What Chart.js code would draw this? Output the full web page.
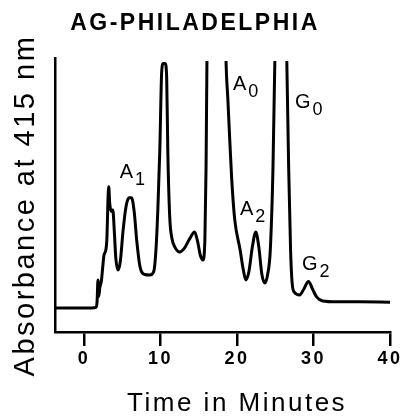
<!DOCTYPE html>
<html>
<head>
<meta charset="utf-8">
<script src="https://cdn.jsdelivr.net/npm/chart.js@4"></script>
<style>
  html, body { margin: 0; padding: 0; background: #fff; }
  canvas { display: block; }
</style>
</head>
<body>
<canvas id="myChart" width="405" height="418"></canvas>
<script>
    // retention time (minutes) and detector trace (relative absorbance, 0-100 = axis height)
    var times = [-3.8, 0, 1.0, 1.55, 1.7, 1.82, 1.92, 2.05, 2.28, 2.45, 2.6, 2.85, 3.0, 3.12, 3.23, 3.35,
        3.49, 3.62, 3.76, 3.95, 4.15, 4.45, 4.75, 5.1, 5.5, 5.9, 6.2, 6.55, 6.9, 7.3, 7.9, 8.6, 9.1, 9.4,
        9.65, 9.9, 10.15, 10.35, 10.6, 10.8, 10.95, 11.2, 11.5, 11.87, 12.5, 13.1, 13.8, 14.45, 14.85, 15.2,
        15.55, 15.8, 15.95, 16.1, 16.4, 18.1, 18.4, 18.55, 18.8, 19.0, 19.3, 19.7, 20.4, 20.8, 21.15, 21.55,
        22.0, 22.45, 22.85, 23.25, 23.65, 24.0, 24.35, 24.7, 24.95, 25.2, 26.2, 26.5, 26.75, 27.0, 27.2,
        27.5, 28.2, 28.7, 29.35, 29.9, 30.4, 31.2, 33, 36, 40];
    var absorbance = [8.8, 8.8, 8.8, 9.0, 11, 19, 13, 16, 19, 24, 28, 30, 35, 48, 53, 47,
        44.5, 44, 44.5, 37, 27, 22.6, 26, 37, 46, 49, 49, 44, 33, 24, 21, 20.8, 22, 30,
        45, 66, 95, 98, 98, 93, 66, 42, 34, 31, 29.2, 30.5, 34, 36.5, 33, 28,
        26.3, 34, 60, 110, 160, 160, 125, 100, 85, 73, 56, 41, 30, 23, 19, 22,
        31, 36.5, 31, 21, 17.9, 21, 30, 60, 100, 160, 160, 100, 60, 30, 18,
        14.5, 13.5, 15.5, 18.4, 15.5, 12.8, 11.3, 11.0, 11.0, 10.9];

    var timeTicks = [0, 10, 20, 30, 40];

    // peak names: letter, subscript, and where the label sits (minutes, absorbance)
    var peakNames = ['A', 'A', 'A', 'G', 'G'];
    var peakSubs = ['1', '0', '2', '0', '2'];
    var peakLabelTimes = [4.67, 19.46, 20.38, 27.57, 28.5];
    var peakLabelLevels = [56.2, 88.3, 42.7, 81.8, 22.6];

    var FONT = '"Liberation Sans", Arial, Helvetica, sans-serif';
    Chart.defaults.font.family = FONT;
    Chart.defaults.color = '#000';

    var spacing = {
        id: 'spacing',
        beforeDraw: function (chart) {
            chart.ctx.letterSpacing = '2.5px';
        }
    };

    var peakLabels = {
        id: 'peakLabels',
        afterDatasetsDraw: function (chart) {
            var ctx = chart.ctx;
            var x = chart.scales.x, y = chart.scales.y;
            ctx.save();
            ctx.fillStyle = '#000';
            ctx.textAlign = 'left';
            ctx.textBaseline = 'alphabetic';
            ctx.letterSpacing = '0px';
            for (var i = 0; i < peakNames.length; i++) {
                var px = x.getPixelForValue(peakLabelTimes[i]);
                var py = y.getPixelForValue(peakLabelLevels[i]);
                ctx.font = '20px ' + FONT;
                ctx.fillText(peakNames[i], px, py);
                var w = ctx.measureText(peakNames[i]).width;
                ctx.font = '18px ' + FONT;
                ctx.fillText(peakSubs[i], px + w + 2, py + 7);
            }
            ctx.restore();
        }
    };

    var ctx = document.getElementById('myChart').getContext('2d');

    var myChart = new Chart(ctx, {
        type: 'line',
        data: {
            datasets: [{
                data: times.map(function (t, i) { return {x: t, y: absorbance[i]}; }),
                borderColor: '#000',
                borderWidth: 3,
                pointRadius: 0,
                fill: false,
                cubicInterpolationMode: 'monotone',
                clip: {left: 0, top: -3, right: 2, bottom: 2}
            }]
        },
        options: {
            responsive: false,
            animation: false,
            layout: {padding: {left: 0, right: 15, top: 0, bottom: 0}},
            plugins: {
                legend: {display: false},
                tooltip: {enabled: false},
                title: {
                    display: true,
                    text: 'AG-PHILADELPHIA',
                    color: '#000',
                    font: {size: 23, weight: 'bold', lineHeight: 1.2},
                    padding: {top: 10, bottom: 20.4}
                }
            },
            scales: {
                x: {
                    type: 'linear',
                    min: -3.8,
                    max: 40,
                    afterBuildTicks: function (s) {
                        s.ticks = timeTicks.map(function (v) { return {value: v}; });
                    },
                    afterFit: function (s) { s.height = 86; },
                    grid: {drawOnChartArea: false, drawTicks: true, tickLength: 14, lineWidth: 2.5, color: '#000'},
                    border: {display: true, color: '#000', width: 2.5},
                    ticks: {color: '#000', font: {size: 18, weight: 'bold'}, padding: 2, maxRotation: 0, autoSkip: false},
                    title: {
                        display: true,
                        text: '   Time in Minutes',
                        color: '#000',
                        font: {size: 26, lineHeight: 1},
                        padding: {top: 0, bottom: 1}
                    }
                },
                y: {
                    min: 0,
                    max: 100,
                    afterFit: function (s) { s.width = 55; },
                    ticks: {display: false},
                    grid: {display: false},
                    border: {display: true, color: '#000', width: 2.5},
                    title: {
                        display: true,
                        text: 'Absorbance at 415 nm  ',
                        color: '#000',
                        font: {size: 29, lineHeight: 1},
                        padding: {top: 11, bottom: 0}
                    }
                }
            }
        },
        plugins: [spacing, peakLabels]
    });
</script>
</body>
</html>
